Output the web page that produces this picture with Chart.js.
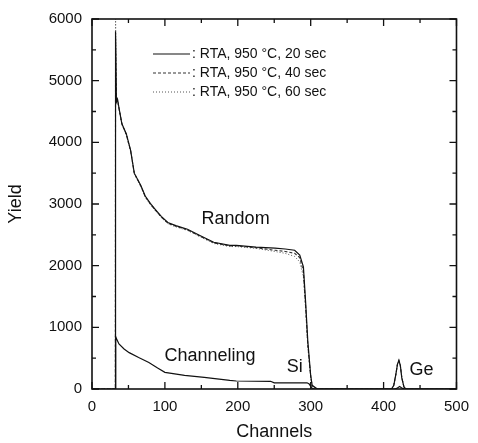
<!DOCTYPE html>
<html>
<head>
<meta charset="utf-8">
<script src="https://cdn.jsdelivr.net/npm/chart.js@4.4.1/dist/chart.umd.min.js"></script>
<style>
  html, body { margin: 0; padding: 0; background: #fff; }
  #wrap { width: 478px; height: 443px; }
</style>
</head>
<body>
<div id="wrap"><canvas id="rbsChart"></canvas></div>
<script>
// ================================
// DATA
// ================================

const randomCh = [0, 32, 32.3, 33.5, 35, 37, 41, 47, 53, 58, 67, 73, 80, 87, 95, 104, 115, 131, 148, 167, 189, 198, 225, 251, 265, 278, 285, 290, 293, 296, 300, 302, 309, 350, 411, 414, 417, 419, 421, 423, 425, 428, 431, 500];

const random20 = [0, 0, 5800, 4650, 4700, 4560, 4300, 4140, 3870, 3500, 3300, 3130, 3010, 2910, 2800, 2700, 2650, 2590, 2490, 2380, 2330, 2330, 2300, 2285, 2270, 2250, 2170, 1980, 1420, 780, 220, 60, 0, 0, 0, 60, 250, 400, 465, 380, 180, 30, 0, 0];

const random40 = [0, 0, 5700, 4650, 4690, 4550, 4300, 4130, 3860, 3500, 3290, 3120, 3000, 2900, 2790, 2690, 2640, 2580, 2480, 2370, 2320, 2320, 2290, 2250, 2230, 2200, 2130, 1900, 1350, 720, 200, 50, 0, 0, 0, 60, 250, 400, 460, 380, 180, 30, 0, 0];

const random60 = [0, 0, 6100, 4650, 4680, 4550, 4290, 4120, 3850, 3490, 3280, 3110, 2990, 2890, 2780, 2680, 2630, 2570, 2470, 2360, 2310, 2310, 2280, 2230, 2200, 2150, 2060, 1820, 1300, 700, 190, 50, 0, 0, 0, 60, 250, 400, 460, 380, 180, 30, 0, 0];

const chanCh = [32, 32.5, 33, 37, 44, 51, 64, 78, 90, 100, 127, 154, 189, 198, 245, 250, 295, 298, 302, 306, 415, 418, 422, 426, 429, 500];
const chan20 = [0, 850, 830, 730, 650, 590, 510, 430, 340, 270, 220, 190, 140, 130, 125, 100, 100, 80, 10, 0, 0, 10, 40, 10, 0, 0];

const seriesLabels = [
    ": RTA, 950 \u00B0C, 20 sec",
    ": RTA, 950 \u00B0C, 40 sec",
    ": RTA, 950 \u00B0C, 60 sec"
];

const xTicks = [0, 100, 200, 300, 400, 500];
const yTicks = [0, 1000, 2000, 3000, 4000, 5000, 6000];

// curve labels: [text, channel, yield]
const curveNotes = [
    ["Random", 197, 2750],
    ["Channeling", 162, 540],
    ["Si", 278, 350],
    ["Ge", 452, 300]
];

const FONT = "'Liberation Sans', Arial, Helvetica, sans-serif";

const toPoints = (xs, ys) => xs.map((x, i) => ({ x: x, y: ys[i] }));

// ================================
// FRAME, INWARD TICKS, LEGEND, NOTES
// ================================

const framePlugin = {
    id: "frame",
    afterDatasetsDraw(chart) {
        const ctx = chart.ctx;
        const a = chart.chartArea;
        const xs = chart.scales.x;
        const ys = chart.scales.y;

        ctx.save();
        ctx.strokeStyle = "#111";
        ctx.lineWidth = 1.6;
        ctx.strokeRect(a.left, a.top, a.right - a.left, a.bottom - a.top);

        ctx.lineWidth = 1.3;
        ctx.beginPath();
        for (let v = 0; v <= 500; v += 50) {
            const px = xs.getPixelForValue(v);
            const len = v % 100 === 0 ? 7 : 4;
            ctx.moveTo(px, a.bottom); ctx.lineTo(px, a.bottom - len);
            ctx.moveTo(px, a.top); ctx.lineTo(px, a.top + len);
        }
        for (let v = 0; v <= 6000; v += 500) {
            const py = ys.getPixelForValue(v);
            const len = v % 1000 === 0 ? 7 : 4;
            ctx.moveTo(a.left, py); ctx.lineTo(a.left + len, py);
            ctx.moveTo(a.right, py); ctx.lineTo(a.right - len, py);
        }
        ctx.stroke();

        // legend
        ctx.font = "14px " + FONT;
        ctx.fillStyle = "#111";
        ctx.textBaseline = "middle";
        chart.data.datasets.slice(0, 3).forEach((ds, i) => {
            const y = a.top + 35 + i * 19;
            ctx.beginPath();
            ctx.setLineDash(ds.borderDash || []);
            ctx.lineWidth = ds.borderWidth;
            ctx.strokeStyle = ds.borderColor;
            ctx.moveTo(a.left + 61, y);
            ctx.lineTo(a.left + 98, y);
            ctx.stroke();
            ctx.setLineDash([]);
            ctx.fillText(seriesLabels[i], a.left + 100, y);
        });

        // curve labels
        ctx.font = "18px " + FONT;
        ctx.textAlign = "center";
        curveNotes.forEach(n => {
            ctx.fillText(n[0], xs.getPixelForValue(n[1]), ys.getPixelForValue(n[2]));
        });
        ctx.restore();
    }
};

// ================================
// CHART
// ================================

const ctx = document.getElementById("rbsChart");

new Chart(ctx, {
    type: "line",

    data: {
        datasets: [
            {
                label: seriesLabels[0],
                data: toPoints(randomCh, random20),
                borderColor: "#111",
                borderWidth: 1.2
            },
            {
                label: seriesLabels[1],
                data: toPoints(randomCh, random40),
                borderColor: "#333",
                borderWidth: 1.1,
                borderDash: [3, 2]
            },
            {
                label: seriesLabels[2],
                data: toPoints(randomCh, random60),
                borderColor: "#555",
                borderWidth: 1,
                borderDash: [1, 2]
            },
            {
                label: "Channeling",
                data: toPoints(chanCh, chan20),
                borderColor: "#111",
                borderWidth: 1.2
            }
        ]
    },

    options: {
        responsive: true,
        maintainAspectRatio: false,
        animation: false,
        elements: {
            point: { radius: 0 },
            line: { tension: 0, fill: false }
        },
        layout: {
            padding: { left: 0, right: 12, top: 13, bottom: 0 }
        },
        plugins: {
            legend: { display: false },
            tooltip: { enabled: false }
        },
        scales: {
            x: {
                type: "linear",
                min: 0,
                max: 500,
                afterFit: s => { s.height = 54; },
                afterBuildTicks: s => { s.ticks = xTicks.map(v => ({ value: v })); },
                grid: { display: false, drawTicks: false },
                border: { display: false },
                ticks: {
                    padding: 9,
                    color: "#111",
                    font: { family: FONT, size: 15 },
                    callback: v => String(v)
                },
                title: {
                    display: true,
                    text: "Channels",
                    color: "#111",
                    font: { family: FONT, size: 18 },
                    padding: 0
                }
            },
            y: {
                min: 0,
                max: 6000,
                afterFit: s => { s.width = 92; },
                afterBuildTicks: s => { s.ticks = yTicks.map(v => ({ value: v })); },
                grid: { display: false, drawTicks: false },
                border: { display: false },
                ticks: {
                    padding: 10,
                    color: "#111",
                    font: { family: FONT, size: 15 },
                    callback: v => String(v)
                },
                title: {
                    display: true,
                    text: "Yield",
                    color: "#111",
                    font: { family: FONT, size: 18 },
                    padding: { top: 5, bottom: 0 }
                }
            }
        }
    },

    plugins: [framePlugin]
});
</script>
</body>
</html>
